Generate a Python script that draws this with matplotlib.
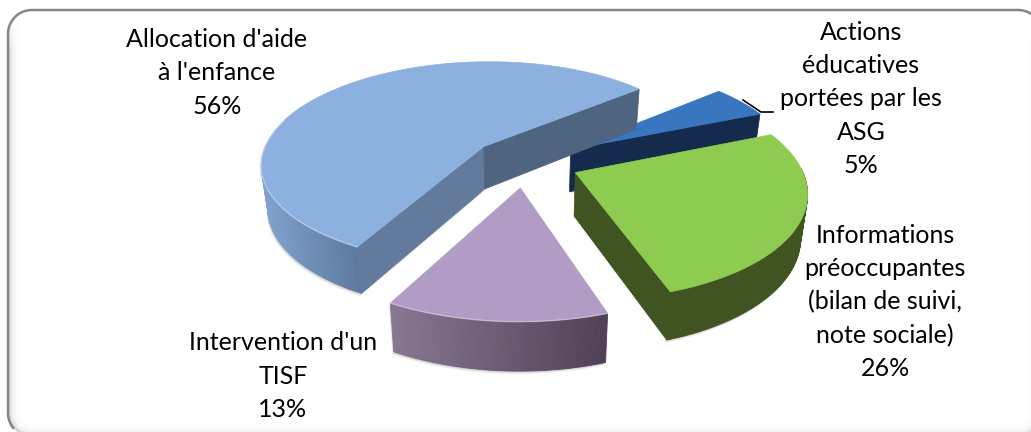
import numpy as np
import matplotlib
matplotlib.use('Agg')
import matplotlib.pyplot as plt
from matplotlib.colors import to_rgb

labels = ["Allocation d'aide\nà l'enfance", "Actions\néducatives\nportées par les\nASG",
          "Informations\npréoccupantes\n(bilan de suivi,\nnote sociale)", "Intervention d'un\nTISF"]
shares = [56, 5, 26, 13]
top_colors = ['#8cb1de', '#3a76bf', '#8dcc50', '#b09cc5']
wall_left = ['#7fa3cf', '#14294a', '#3f5420', '#877892']
wall_right = ['#5f7a9f', '#14294a', '#3f5420', '#4f4056']
cut_colors = {0: ['#627a9b', '#4f6480'], 1: [None, '#152b4e'], 2: [None, '#3f5420'], 3: [None, None]}
label_xy = [(217, 73), (861, 99), (885, 302), (283, 376)]

# pie geometry
CX, CY = 525, 162
A, B = 224, 103
PERSP = 0.16
EXPLODE = 0.243
START = 208.2
DEPTH = 43
SCALE_X, SCALE_Y = 0.975, 1.04

# frame runs past the right and bottom edges of the figure
FRAME_X0, FRAME_Y0, FRAME_X1, FRAME_Y1 = 8, 10, 1042, 437
FRAME_R = 24


def project(x, y, bottom=False):
    w = 1 + PERSP * y
    sx = A * x / w
    sy = -B * y / w
    if bottom:
        return CX + sx * SCALE_X, CY + sy * SCALE_Y + DEPTH
    return CX + sx, CY + sy


def slice_points(start, sweep, n=120):
    mid = np.radians(start + sweep / 2)
    ox, oy = EXPLODE * np.sin(mid), EXPLODE * np.cos(mid)
    ang = np.radians(np.linspace(start, start + sweep, n))
    return ox, oy, ox + np.sin(ang), oy + np.cos(ang), ang


def wall_poly(x1, y1, x2, y2):
    tx, ty = project(np.array([x1, x2]), np.array([y1, y2]))
    bx, by = project(np.array([x1, x2]), np.array([y1, y2]), bottom=True)
    return [tx[0], tx[1], bx[1], bx[0]], [ty[0], ty[1], by[1], by[0]]


def shadow(ax, xs, ys, z):
    for off, alpha in zip([3, 2, 1], [0.08, 0.12, 0.18]):
        ax.fill(np.array(xs) - off * 0.5, np.array(ys) + off, color='#555555', alpha=alpha, lw=0, zorder=z)


def inner_glow():
    # distance to the rounded frame, turned into a grey fade along the inside edge
    px, py = np.meshgrid(np.arange(1031) + 0.5, np.arange(432) + 0.5)
    hx, hy = (FRAME_X1 - FRAME_X0) / 2, (FRAME_Y1 - FRAME_Y0) / 2
    qx = np.abs(px - (FRAME_X0 + hx)) - (hx - FRAME_R)
    qy = np.abs(py - (FRAME_Y0 + hy)) - (hy - FRAME_R)
    dist = np.hypot(np.maximum(qx, 0), np.maximum(qy, 0)) + np.minimum(np.maximum(qx, qy), 0) - FRAME_R
    alpha = 0.5 * np.exp(dist / 3.0) * np.clip((py - 20) / 30, 0, 1)
    alpha[dist > 0] = 0
    rgba = np.zeros((432, 1031, 4))
    rgba[..., :3] = 0.45
    rgba[..., 3] = alpha
    return rgba


def frame_line():
    # left side, top side and the corners that stay inside the figure
    t1 = np.radians(np.linspace(142, 180, 30))
    x1 = FRAME_X0 + FRAME_R + FRAME_R * np.cos(t1)
    y1 = FRAME_Y1 - FRAME_R + FRAME_R * np.sin(t1)
    t2 = np.radians(np.linspace(180, 270, 30))
    x2 = FRAME_X0 + FRAME_R + FRAME_R * np.cos(t2)
    y2 = FRAME_Y0 + FRAME_R + FRAME_R * np.sin(t2)
    t3 = np.radians(np.linspace(270, 330, 30))
    x3 = FRAME_X1 - FRAME_R + FRAME_R * np.cos(t3)
    y3 = FRAME_Y0 + FRAME_R + FRAME_R * np.sin(t3)
    return np.r_[x1, x2, x3], np.r_[y1, y2, y3]


fig = plt.figure(figsize=(10.31, 4.32), dpi=100)
ax = fig.add_axes([0, 0, 1, 1])
ax.imshow(inner_glow(), extent=(0, 1031, 432, 0), zorder=1, interpolation='nearest')
ax.set_xlim(0, 1031)
ax.set_ylim(432, 0)
ax.set_aspect('auto')
ax.axis('off')

fx, fy = frame_line()
ax.plot(fx, fy, color='#868686', lw=1.8, zorder=1.2)

starts = []
pos = START
for s in shares:
    starts.append(pos)
    pos += s * 3.6

# back slices first, purple and green last so they sit on top
for i, z in zip([1, 0, 3, 2], [10, 20, 30, 40]):
    sweep = shares[i] * 3.6
    ox, oy, xs, ys, ang = slice_points(starts[i], sweep)
    tx, ty = project(xs, ys)
    bx, by = project(xs, ys, bottom=True)
    tax, tay = project(ox, oy)
    bax, bay = project(ox, oy, bottom=True)

    # silhouette of the whole slice used for the drop shadow
    hull_x = np.r_[bax, bx, tx[::-1]]
    hull_y = np.r_[bay, by, ty[::-1]]
    shadow(ax, hull_x, hull_y, z)

    # outer wall, shaded strip by strip
    c0, c1 = np.array(to_rgb(wall_left[i])), np.array(to_rgb(wall_right[i]))
    front = np.cos(ang) < 0.05
    idx = np.where(front)[0]
    for j in idx[:-1]:
        t = (tx[j] - tx[idx].min()) / max(np.ptp(tx[idx]), 1)
        ax.fill([tx[j], tx[j + 1], bx[j + 1], bx[j]], [ty[j], ty[j + 1], by[j + 1], by[j]],
                color=c0 + (c1 - c0) * t, lw=0.6, zorder=z + 1)

    # cut faces
    first, last = cut_colors[i]
    if first:
        px, py = wall_poly(ox, oy, xs[0], ys[0])
        ax.fill(px, py, color=first, lw=0.5, zorder=z + 2)
    if last:
        px, py = wall_poly(ox, oy, xs[-1], ys[-1])
        ax.fill(px, py, color=last, lw=0.5, zorder=z + 2)

    # top surface
    ax.fill(np.r_[tax, tx], np.r_[tay, ty], color=top_colors[i], lw=0.5, zorder=z + 3)
    rim = np.where(np.cos(ang) < 0.3)[0]
    if len(rim) and i in (0, 3):
        ax.plot(tx[rim], ty[rim], color='white', alpha=0.35, lw=1, zorder=z + 4)

    ax.text(label_xy[i][0], label_xy[i][1], f'{labels[i]}\n{shares[i]}%', ha='center', va='center',
            family='Lato', fontsize=18, color='black', linespacing=1.54, zorder=60)

# leader line for the small slice
ax.plot([743, 761, 773], [100, 112, 112], color='black', lw=1.2, zorder=55)

fig.savefig('out.png', dpi=100)
